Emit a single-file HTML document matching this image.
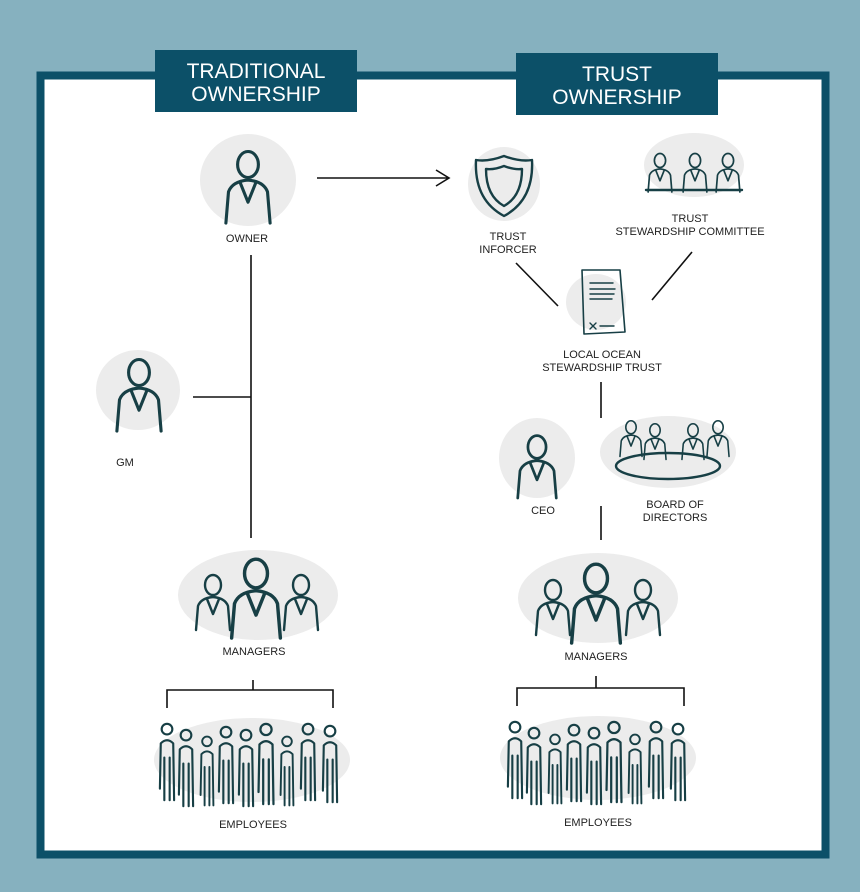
<!DOCTYPE html>
<html><head><meta charset="utf-8"><style>
html,body{margin:0;padding:0;background:#86b1bf;}
svg{display:block}
text{font-family:"Liberation Sans",sans-serif;fill:#222;font-size:11px;text-anchor:middle;}
.t{fill:#fff;font-size:21px;}
.s{fill:none;stroke:#173f45;stroke-width:2.4;stroke-linecap:round;stroke-linejoin:round}
.l{stroke:#111;stroke-width:1.6;fill:none}
.b{fill:#ececec}
</style></head><body>
<svg width="860" height="892" viewBox="0 0 860 892" xmlns="http://www.w3.org/2000/svg">
<defs>
<symbol id="p" viewBox="0 0 40 60" overflow="visible"><g class="s"><ellipse cx="20" cy="15" rx="8" ry="10"/><path d="M3 60 L5 36 Q8 28 20 27 Q32 28 35 36 L37 60"/><path d="M14 29 L20 44 L26 29"/></g></symbol>
<symbol id="e" viewBox="0 0 20 90" overflow="visible"><g class="s"><circle cx="10" cy="8" r="6"/><path d="M2 75 L3 24 Q10 17 17 24 L18 88"/><path d="M7 40 L7 88 M13 40 L13 88"/></g></symbol>
</defs>
<rect x="40.5" y="75.5" width="785" height="779" fill="#fff" stroke="#0c5068" stroke-width="8"/>
<rect x="155" y="50" width="202" height="62" fill="#0c5068"/>
<text class="t" x="256" y="78">TRADITIONAL</text><text class="t" x="256" y="101">OWNERSHIP</text>
<rect x="516" y="53" width="202" height="62" fill="#0c5068"/>
<text class="t" x="617" y="81">TRUST</text><text class="t" x="617" y="104">OWNERSHIP</text>

<!-- owner -->
<ellipse class="b" cx="248" cy="180" rx="48" ry="46"/>
<use href="#p" x="222" y="145" width="52" height="78"/>
<text x="247" y="242">OWNER</text>
<path class="l" d="M317 178 L448 178 M436 170 L449 178 L436 186"/>
<path class="l" d="M251 255 L251 538 M193 397 L251 397"/>
<!-- GM -->
<ellipse class="b" cx="138" cy="390" rx="42" ry="40"/>
<use href="#p" x="113" y="352" width="52" height="80"/>
<text x="125" y="466">GM</text>
<!-- managers left -->
<ellipse class="b" cx="258" cy="595" rx="80" ry="45"/>
<use href="#p" x="192" y="570" width="42" height="60"/>
<use href="#p" x="280" y="570" width="42" height="60"/>
<use href="#p" x="226" y="552" width="60" height="86"/>
<text x="254" y="655">MANAGERS</text>
<path class="l" d="M253 680 L253 690 M167 708 L167 690 L333 690 L333 708"/>
<ellipse class="b" cx="252" cy="760" rx="98" ry="42"/>
<g>
<use href="#e" x="158" y="722" width="18" height="80"/><use href="#e" x="176" y="728" width="20" height="80"/>
<use href="#e" x="196" y="735" width="22" height="72"/><use href="#e" x="216" y="725" width="20" height="80"/>
<use href="#e" x="236" y="728" width="20" height="80"/><use href="#e" x="256" y="722" width="20" height="84"/>
<use href="#e" x="276" y="735" width="22" height="72"/><use href="#e" x="298" y="722" width="20" height="80"/>
<use href="#e" x="320" y="724" width="20" height="80"/>
</g>
<text x="253" y="828">EMPLOYEES</text>

<!-- right -->
<ellipse class="b" cx="504" cy="184" rx="36" ry="37"/>
<path class="s" d="M504 156 Q520 162 532 160 Q534 200 504 216 Q474 200 476 160 Q488 162 504 156 Z M504 166 Q514 170 522 169 Q522 196 504 206 Q486 196 486 169 Q494 170 504 166 Z"/>
<text x="508" y="240">TRUST</text><text x="508" y="253">INFORCER</text>
<ellipse class="b" cx="694" cy="165" rx="50" ry="32"/>
<use href="#p" x="645" y="150" width="30" height="42"/><use href="#p" x="680" y="150" width="30" height="42"/><use href="#p" x="713" y="150" width="30" height="42"/>
<path class="s" d="M646 190 L742 190"/>
<text x="690" y="222">TRUST</text><text x="690" y="235">STEWARDSHIP COMMITTEE</text>
<path class="l" d="M516 263 L558 306 M692 252 L652 300"/>
<ellipse class="b" cx="596" cy="302" rx="30" ry="28"/>
<path class="s" d="M582 270 L620 270 L625 332 L584 334 Z" style="stroke-width:1.6"/>
<path class="s" d="M590 283 L613 283 M590 289 L615 289 M590 294 L614 294 M590 299 L612 299 M590 323 L596 329 M596 323 L590 329 M600 326 L614 326" style="stroke-width:1.4"/>
<text x="602" y="358">LOCAL OCEAN</text><text x="602" y="371">STEWARDSHIP TRUST</text>
<path class="l" d="M601 382 L601 418 M601 506 L601 540"/>
<ellipse class="b" cx="537" cy="458" rx="38" ry="40"/>
<use href="#p" x="514" y="430" width="46" height="68"/>
<text x="543" y="514">CEO</text>
<ellipse class="b" cx="668" cy="452" rx="68" ry="36"/>
<use href="#p" x="618" y="417" width="26" height="40"/><use href="#p" x="642" y="420" width="26" height="40"/><use href="#p" x="680" y="420" width="26" height="40"/><use href="#p" x="705" y="417" width="26" height="40"/>
<ellipse cx="668" cy="466" rx="52" ry="13" fill="#ececec" class="s"/>
<text x="675" y="508">BOARD OF</text><text x="675" y="521">DIRECTORS</text>
<ellipse class="b" cx="598" cy="598" rx="80" ry="45"/>
<use href="#p" x="532" y="575" width="42" height="60"/>
<use href="#p" x="622" y="575" width="42" height="60"/>
<use href="#p" x="566" y="557" width="60" height="86"/>
<text x="596" y="660">MANAGERS</text>
<path class="l" d="M596 676 L596 688 M517 706 L517 688 L684 688 L684 706"/>
<ellipse class="b" cx="598" cy="758" rx="98" ry="42"/>
<g>
<use href="#e" x="506" y="720" width="18" height="80"/><use href="#e" x="524" y="726" width="20" height="80"/>
<use href="#e" x="544" y="733" width="22" height="72"/><use href="#e" x="564" y="723" width="20" height="80"/>
<use href="#e" x="584" y="726" width="20" height="80"/><use href="#e" x="604" y="720" width="20" height="84"/>
<use href="#e" x="624" y="733" width="22" height="72"/><use href="#e" x="646" y="720" width="20" height="80"/>
<use href="#e" x="668" y="722" width="20" height="80"/>
</g>
<text x="598" y="826">EMPLOYEES</text>
</svg>
</body></html>
